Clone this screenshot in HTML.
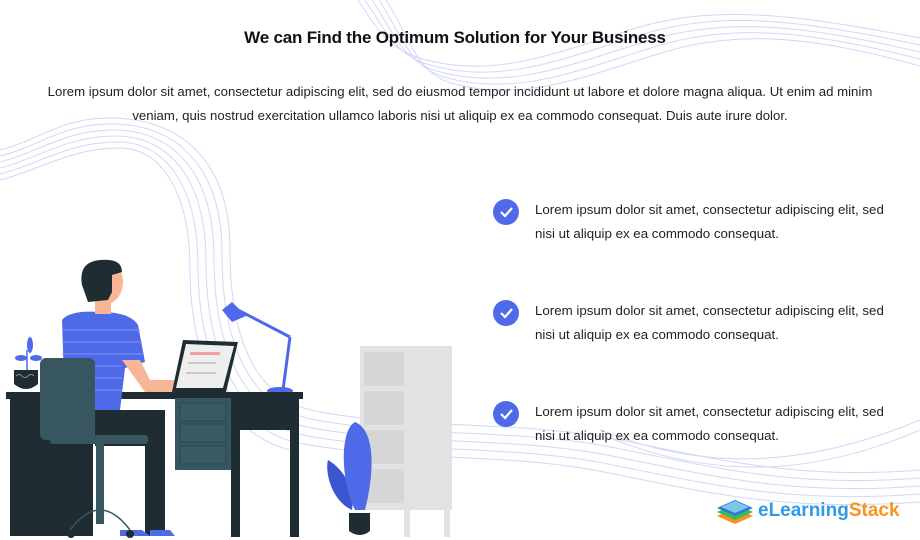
<!DOCTYPE html>
<html><head><meta charset="utf-8"><style>
body{margin:0;width:920px;height:540px;background:#fff;position:relative;overflow:hidden;font-family:"Liberation Sans",Arial,sans-serif;color:#222}
svg{position:absolute;left:0;top:0}
.t{position:absolute;left:0;width:910px;text-align:center;top:28px;font-size:17px;font-weight:bold;color:#111;letter-spacing:-0.2px}
.p{position:absolute;left:36px;width:848px;text-align:center;top:80px;font-size:13.2px;line-height:24px;color:#222}
.it{position:absolute;left:535px;width:370px;font-size:13.3px;line-height:24px;color:#222}
.c{position:absolute;left:493px;width:26px;height:26px;border-radius:50%;background:#4f6ae8}
.logo{position:absolute;left:758px;top:500px;font-size:19px;font-weight:bold;color:#2f9ae8}
.logo span{color:#f7931e}
</style></head><body>
<svg width="920" height="540" viewBox="0 0 920 540">
<g fill="none" stroke="#d3d7f8" stroke-width="1">
<path d="M0 150 C40 140 60 118 110 118 C180 118 230 160 230 250 C230 330 250 400 320 412 C420 430 520 420 620 440 C720 460 800 480 920 470"/>
<path d="M0 156 C40 146 62 124 112 124 C176 124 222 166 222 254 C222 336 245 408 316 420 C416 438 516 428 616 448 C716 468 796 488 920 478"/>
<path d="M0 162 C40 152 64 130 114 130 C172 130 214 172 214 258 C214 342 240 416 312 428 C412 446 512 436 612 456 C712 476 792 496 920 486"/>
<path d="M0 168 C40 158 66 136 116 136 C168 136 206 178 206 262 C206 348 235 424 308 436 C408 454 508 444 608 464 C708 484 788 504 920 494"/>
<path d="M0 174 C40 164 68 142 118 142 C164 142 198 184 198 266 C198 354 230 432 304 444 C404 462 504 452 604 472 C704 492 784 512 920 502"/>
<path d="M0 180 C40 170 70 148 120 148 C160 148 190 190 190 270 C190 360 225 440 300 452"/>
<path d="M365 0 C385 30 395 55 430 65 C500 85 560 60 640 35 C720 10 800 20 920 45"/>
<path d="M372 0 C392 30 402 61 437 71 C507 91 567 66 647 41 C727 16 807 26 920 52"/>
<path d="M379 0 C399 30 409 67 444 77 C514 97 574 72 654 47 C734 22 814 32 920 59"/>
<path d="M386 0 C406 30 416 73 451 83 C521 103 581 78 661 53 C741 28 821 38 920 66"/>
<path d="M358 0 C378 30 388 49 423 59 C493 79 553 54 633 29 C713 4 793 14 920 38"/>
<path d="M600 430 C700 470 800 470 920 420"/><path d="M610 438 C710 478 810 478 920 430"/>
</g>
<rect x="360" y="346" width="92" height="164" fill="#e2e2e2"/>
<rect x="364" y="352" width="40" height="34" fill="#d6d6d6"/><rect x="364" y="391" width="40" height="34" fill="#d6d6d6"/><rect x="364" y="430" width="40" height="34" fill="#d6d6d6"/><rect x="364" y="469" width="40" height="34" fill="#d6d6d6"/>
<rect x="404" y="505" width="6" height="32" fill="#e2e2e2"/><rect x="444" y="505" width="6" height="32" fill="#e2e2e2"/>
<path d="M352 510 C330 500 325 470 328 460 C345 470 355 490 352 510Z" fill="#3d55d0"/>
<path d="M355 510 C340 480 340 430 355 422 C375 430 375 470 365 510Z" fill="#4f6ae8"/>
<path d="M349 513 h21 v18 q-10 8 -21 0Z" fill="#1f2d33"/>
<path d="M222 310 L232 302 L246 316 L232 322Z" fill="#4f6ae8"/>
<line x1="238" y1="310" x2="290" y2="337" stroke="#4f6ae8" stroke-width="3"/>
<line x1="290" y1="337" x2="283" y2="390" stroke="#4f6ae8" stroke-width="3"/>
<ellipse cx="280" cy="391" rx="13" ry="4" fill="#4f6ae8"/>
<rect x="6" y="392" width="297" height="7" fill="#1f2d33"/>
<rect x="10" y="398" width="83" height="138" fill="#1f2d33"/>
<rect x="175" y="398" width="57" height="72" fill="#375660"/>
<rect x="180" y="403" width="46" height="18" fill="#3a5a63" stroke="#2c464e"/><rect x="180" y="424" width="46" height="18" fill="#3a5a63" stroke="#2c464e"/><rect x="180" y="446" width="46" height="18" fill="#3a5a63" stroke="#2c464e"/>
<rect x="232" y="398" width="67" height="32" fill="#1f2d33"/>
<rect x="231" y="398" width="9" height="139" fill="#1f2d33"/><rect x="290" y="398" width="9" height="139" fill="#1f2d33"/>
<path d="M95 410 h70 v126 h-20 v-90 h-50Z" fill="#1f2d33"/>
<path d="M120 530 l22 0 l8 6 h-30Z" fill="#4f6ae8"/><path d="M150 530 l20 0 l5 6 h-25Z" fill="#4f6ae8"/>
<path d="M62 320 Q70 310 100 312 Q130 312 138 325 L145 362 L125 368 L120 410 L65 410Z" fill="#4f6ae8"/>
<g stroke="#8094f0" stroke-width="1"><line x1="62" y1="330" x2="140" y2="330"/><line x1="62" y1="342" x2="142" y2="342"/><line x1="62" y1="354" x2="144" y2="354"/><line x1="62" y1="366" x2="122" y2="366"/><line x1="62" y1="378" x2="122" y2="378"/><line x1="62" y1="390" x2="122" y2="390"/></g>
<path d="M122 360 L140 360 L150 380 L200 380 L205 392 L145 392Z" fill="#f7b796"/>
<rect x="95" y="298" width="16" height="16" fill="#f7b796"/>
<ellipse cx="106" cy="282" rx="17" ry="22" fill="#f7b796"/>
<path d="M82 285 Q78 262 100 260 Q122 258 122 272 L112 275 L112 292 L108 300 L88 302Z" fill="#1f2d33"/>
<path d="M183 340 L238 342 L226 392 L172 392Z" fill="#1f2d33"/>
<path d="M186 344 L234 346 L223 388 L176 388Z" fill="#eeeeee"/>
<rect x="190" y="352" width="30" height="3" fill="#f0a0a0"/><rect x="188" y="362" width="28" height="2" fill="#c8c8c8"/><rect x="186" y="372" width="30" height="2" fill="#c8c8c8"/>
<rect x="40" y="358" width="55" height="82" rx="6" fill="#375660"/>
<rect x="50" y="435" width="98" height="9" rx="3" fill="#375660"/>
<rect x="96" y="444" width="8" height="80" fill="#375660"/>
<path d="M70 530 Q100 490 130 530" fill="none" stroke="#375660" stroke-width="1.5"/>
<circle cx="71" cy="534" r="4" fill="#1f2d33"/><circle cx="130" cy="534" r="4" fill="#1f2d33"/>
<path d="M14 370 h24 v14 q-12 10 -24 0Z" fill="#1f2d33"/>
<path d="M16 376 q3 -3 6 0 q3 3 6 0 q3 -3 6 0" stroke="#aaa" fill="none" stroke-width="0.8"/>
<path d="M27 370 v-20" stroke="#4f6ae8" stroke-width="1.5"/>
<ellipse cx="30" cy="345" rx="3" ry="8" fill="#4f6ae8"/><ellipse cx="21" cy="358" rx="6" ry="3" fill="#4f6ae8"/><ellipse cx="36" cy="358" rx="6" ry="3" fill="#4f6ae8"/>
<g transform="translate(717,498)">
<path d="M0 18 L18 10 L36 18 L18 26Z" fill="#f7931e"/>
<path d="M0 14 L18 6 L36 14 L18 22Z" fill="#3dbb5b"/>
<path d="M0 10 L18 2 L36 10 L18 18Z" fill="#2f78d8"/>
<path d="M4 9 L18 3 L32 9 L18 15Z" fill="#7cc6e8"/>
</g>
</svg>
<div class="t">We can Find the Optimum Solution for Your Business</div>
<div class="p">Lorem ipsum dolor sit amet, consectetur adipiscing elit, sed do eiusmod tempor incididunt ut labore et dolore magna aliqua. Ut enim ad minim veniam, quis nostrud exercitation ullamco laboris nisi ut aliquip ex ea commodo consequat. Duis aute irure dolor.</div>
<div class="c" style="top:199px"><svg width="26" height="26"><path d="M8 13 l4 4 l7 -8" stroke="#fff" stroke-width="2.2" fill="none"/></svg></div>
<div class="c" style="top:300px"><svg width="26" height="26"><path d="M8 13 l4 4 l7 -8" stroke="#fff" stroke-width="2.2" fill="none"/></svg></div>
<div class="c" style="top:401px"><svg width="26" height="26"><path d="M8 13 l4 4 l7 -8" stroke="#fff" stroke-width="2.2" fill="none"/></svg></div>
<div class="it" style="top:198px">Lorem ipsum dolor sit amet, consectetur adipiscing elit, sed nisi ut aliquip ex ea commodo consequat.</div>
<div class="it" style="top:299px">Lorem ipsum dolor sit amet, consectetur adipiscing elit, sed nisi ut aliquip ex ea commodo consequat.</div>
<div class="it" style="top:400px">Lorem ipsum dolor sit amet, consectetur adipiscing elit, sed nisi ut aliquip ex ea commodo consequat.</div>
<div class="logo">eLearning<span>Stack</span></div>
</body></html>
